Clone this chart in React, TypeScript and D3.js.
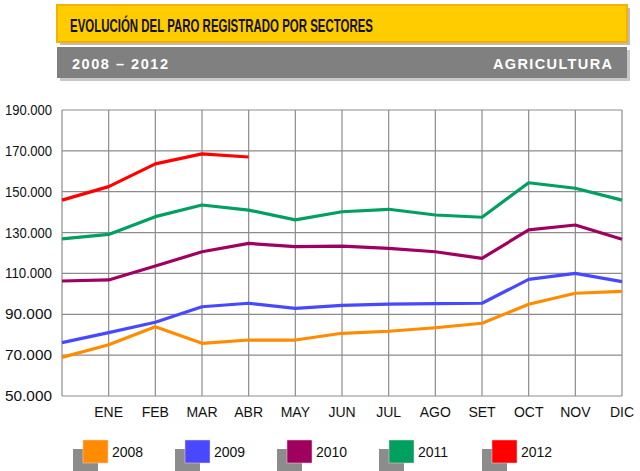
import React from "react";
import * as d3 from "d3";

const categories = ["", "ENE", "FEB", "MAR", "ABR", "MAY", "JUN", "JUL", "AGO", "SET", "OCT", "NOV", "DIC"];
const yTicks = [50000, 70000, 90000, 110000, 130000, 150000, 170000, 190000];

const s2008 = [68900, 75100, 83900, 75800, 77400, 77400, 80700, 81700, 83400, 85600, 94900, 100300, 101200];
const s2009 = [76100, 81000, 86100, 93700, 95400, 92900, 94400, 95000, 95200, 95400, 107100, 110000, 106000];
const s2010 = [106300, 106800, 113600, 120600, 124700, 123100, 123400, 122300, 120600, 117400, 131300, 133700, 126700];
const s2011 = [126900, 129100, 137800, 143500, 141000, 136200, 140200, 141400, 138600, 137500, 154400, 151700, 145900];
const s2012 = [145900, 152500, 163600, 168500, 167000];

const seriesNames = ["2008", "2009", "2010", "2011", "2012"];
const seriesColors = ["#FF8C00", "#4848FF", "#A0005E", "#00A060", "#FF0000"];
const seriesData = [s2008, s2009, s2010, s2011, s2012];

export default function App() {
  const W = 640, H = 471;
  const left = 62, right = 622, top = 110, bottom = 396;
  const x = d3.scalePoint<number>().domain(d3.range(categories.length)).range([left, right]);
  const y = d3.scaleLinear().domain([50000, 190000]).range([bottom, top]);
  const line = d3.line<number>().x((_, i) => x(i)!).y((d) => y(d));
  const fmt = (v: number) => d3.format(",")(v).replace(/,/g, ".");
  const font = "'Liberation Sans', Arial, sans-serif";
  const narrow = "'Liberation Sans Narrow', 'Liberation Sans', Arial, sans-serif";
  const legendX = [83, 185, 287, 389, 492];

  return (
    <svg width={W} height={H} style={{ position: "absolute", left: 0, top: 0, background: "#fff" }}>
      {/* title bars */}
      <rect x={60} y={8} width={570} height={37} fill="#bdbdbd" />
      <rect x={57} y={5} width={570} height={37} fill="#FFCC00" stroke="#F5B000" strokeWidth={2} />
      <text x={70} y={31.5} fontFamily={narrow} fontWeight="bold" fontSize={18.5} fill="#111" textLength={303} lengthAdjust="spacingAndGlyphs">
        EVOLUCIÓN DEL PARO REGISTRADO POR SECTORES
      </text>
      <rect x={60} y={50} width={570} height={31} fill="#c8c8c8" />
      <rect x={57} y={47} width={570} height={31} fill="#808080" />
      <text x={72} y={69} fontFamily={font} fontWeight="bold" fontSize={14.5} fill="#fff" textLength={96} lengthAdjust="spacing">
        2008 – 2012
      </text>
      <text x={493} y={69} fontFamily={font} fontWeight="bold" fontSize={14.5} fill="#fff" textLength={119} lengthAdjust="spacing">
        AGRICULTURA
      </text>

      {/* grid */}
      {yTicks.map((t) => (
        <line key={"h" + t} x1={left} x2={right} y1={y(t)} y2={y(t)} stroke="#8c8c8c" strokeWidth={1.2} />
      ))}
      {categories.map((c, i) => (
        <line key={"v" + i} x1={x(i)} x2={x(i)} y1={top} y2={bottom} stroke="#8c8c8c" strokeWidth={1.2} />
      ))}

      {/* y labels */}
      {yTicks.map((t) => (
        <text key={"yl" + t} x={52} y={y(t) + 5} textAnchor="end" fontFamily={font} fontSize={14} fill="#111" textLength={47} lengthAdjust="spacingAndGlyphs">
          {fmt(t)}
        </text>
      ))}
      {/* x labels */}
      {categories.map((c, i) => (
        <text key={"xl" + i} x={x(i)} y={417} textAnchor="middle" fontFamily={narrow} fontSize={14} fill="#111">
          {c}
        </text>
      ))}

      {/* lines */}
      {seriesData.map((d, k) => (
        <path key={"s" + k} d={line(d) || ""} fill="none" stroke={seriesColors[k]} strokeWidth={3.2} strokeLinejoin="round" />
      ))}

      {/* legend */}
      {seriesNames.map((n, k) => (
        <g key={"lg" + n}>
          <rect x={legendX[k] - 10} y={449} width={25} height={24} fill="#8c8c8c" />
          <rect x={legendX[k]} y={440} width={25} height={23} fill={seriesColors[k]} stroke="#ffd0d0" strokeWidth={0.5} />
          <text x={legendX[k] + 29} y={457} fontFamily={narrow} fontSize={14} fill="#111">
            {n}
          </text>
        </g>
      ))}
    </svg>
  );
}
